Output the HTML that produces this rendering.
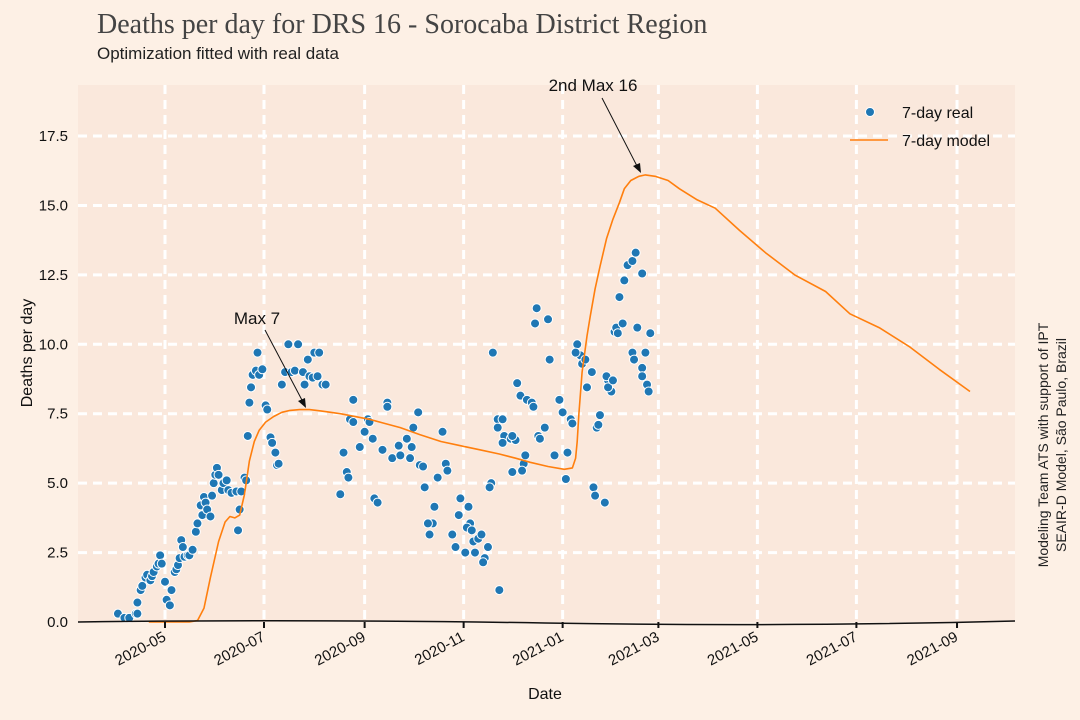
<!DOCTYPE html>
<html><head><meta charset="utf-8"><style>
html,body{margin:0;padding:0;background:#fdf0e5;}
svg{display:block;font-family:"Liberation Sans",sans-serif;}
</style></head><body>
<svg id="chart" width="1080" height="720" viewBox="0 0 1080 720">
<rect width="1080" height="720" fill="#fdf0e5"/>
<text x="97" y="33" font-family="Liberation Serif, serif" font-size="28" fill="#444">Deaths per day for DRS 16 - Sorocaba District Region</text>
<text x="97" y="59" font-size="17" fill="#222">Optimization fitted with real data</text>
<rect x="78" y="85" width="937" height="537" fill="#fae8dc"/>
<g id="grid"></g><g id="marks"></g><g id="axes"></g>
<text transform="translate(32,353) rotate(-90)" text-anchor="middle" font-size="16" fill="#111">Deaths per day</text>
<text x="545" y="699" text-anchor="middle" font-size="16" fill="#111">Date</text>
<text transform="translate(1048,445) rotate(-90)" text-anchor="middle" font-size="14" fill="#222">Modeling Team ATS with support of IPT</text>
<text transform="translate(1066,445) rotate(-90)" text-anchor="middle" font-size="14" fill="#222">SEAIR-D Model, São Paulo, Brazil</text>
<g>
<circle cx="870" cy="112" r="4.5" fill="#1f77b4" stroke="#fff" stroke-width="1"/>
<text x="902" y="118" font-size="16" fill="#111">7-day real</text>
<line x1="850" y1="140" x2="888" y2="140" stroke="#ff7f0e" stroke-width="1.5"/>
<text x="902" y="146" font-size="16" fill="#111">7-day model</text>
</g>
<g>
<text x="257" y="324" text-anchor="middle" font-size="17" fill="#111">Max 7</text>
<line x1="265" y1="330" x2="303" y2="402" stroke="#111" stroke-width="1"/>
<polygon points="306,408 298,401 305,398" fill="#111"/>
</g>
<g>
<text x="593" y="91" text-anchor="middle" font-size="17" fill="#111">2nd Max 16</text>
<line x1="602" y1="98" x2="637" y2="166" stroke="#111" stroke-width="1"/>
<polygon points="641,173 633,166 640,163" fill="#111"/>
</g>
</svg>
<script>
// day index = days since 2020-05-01
const realDays=[-29,-25,-22,-18,-17,-17,-15,-14,-12,-11,-9,-8,-7,-5,-4,-3,-2,0,1,3,4,6,7,8,9,10,11,12,14,15,17,19,20,22,23,24,25,26,28,29,30,31,32,33,35,36,38,39,41,44,45,46,47,49,50,51,52,53,54,56,57,58,60,62,63,65,66,68,69,70,72,74,76,78,80,82,85,86,88,89,91,92,94,95,97,99,116,114,116,137,137,156,125,126,123,128,120,110,112,113,108,129,131,134,140,145,144,149,152,151,153,157,159,171,173,174,168,160,166,165,162,163,177,179,182,187,188,181,186,189,190,193,191,185,197,196,195,199,206,201,200,205,209,213,216,214,205,208,208,214,221,220,222,217,219,223,226,227,230,231,234,229,236,228,202,237,243,250,251,266,267,268,245,248,240,247,264,265,271,273,275,272,273,260,256,257,254,253,259,263,276,277,278,279,282,280,283,285,288,290,294,291,296,288,289,294,294,297,298,299];
const realVals=[0.3,0.15,0.15,0.3,0.3,0.7,1.15,1.3,1.6,1.7,1.5,1.65,1.8,2.0,2.1,2.4,2.1,1.45,0.8,0.6,1.15,1.8,1.9,2.05,2.3,2.95,2.7,2.35,2.4,2.4,2.6,3.25,3.55,4.2,3.85,4.5,4.3,4.05,3.8,4.55,5.0,5.3,5.55,5.3,4.75,5.0,5.1,4.75,4.65,4.7,3.3,4.05,4.7,5.2,5.1,6.7,7.9,8.45,8.9,9.05,9.7,8.9,9.1,7.8,7.65,6.65,6.45,6.1,5.65,5.7,8.55,9.0,10.0,9.0,9.05,10.0,9.0,8.55,9.45,8.85,8.8,9.7,8.85,9.7,8.55,8.55,8.0,7.3,7.2,7.9,7.75,7.55,7.3,7.2,6.85,6.6,6.3,6.1,5.4,5.2,4.6,4.45,4.3,6.2,5.9,6.0,6.35,6.6,6.3,5.9,7.0,5.65,5.6,6.85,5.7,5.45,5.2,4.85,4.15,3.55,3.55,3.15,3.15,2.7,4.45,4.15,3.55,3.85,3.4,3.3,2.9,3.0,2.5,2.5,2.3,2.15,3.15,2.7,1.15,5.0,4.85,7.3,6.7,6.6,6.55,6.7,7.0,7.3,6.45,5.4,5.7,5.45,6.0,8.6,8.15,8.0,7.9,7.75,6.7,6.6,7.0,11.3,10.9,10.75,9.7,9.45,8.0,7.3,7.15,7.0,7.1,7.45,7.55,6.1,6.0,5.15,4.85,4.55,4.3,8.7,8.3,8.85,8.45,8.45,9.6,9.3,10.0,9.7,9.45,9.0,8.7,10.45,10.6,10.4,10.75,11.7,12.3,12.85,13.0,13.3,12.55,10.6,9.7,9.7,9.45,9.15,8.85,8.55,8.3,10.4,11.3,12.3,12.55];
const modelDays=[-10,15,20,24,28,33,37,40,43,46,49,52,55,58,62,67,72,77,83,89,96,108,126,145,157,170,182,194,206,216,225,236,246,251,253,254,255,257,260,262,265,268,272,276,280,283,287,292,296,302,310,317,328,339,354,370,388,407,422,440,459,477,496];
const modelVals=[0,0,0.05,0.5,1.6,2.9,3.6,3.8,3.75,3.85,4.6,5.8,6.5,6.9,7.2,7.4,7.55,7.62,7.65,7.65,7.6,7.5,7.3,7.0,6.75,6.5,6.35,6.2,6.05,5.9,5.75,5.6,5.5,5.55,5.9,6.5,7.5,9.0,10.3,11.0,12.0,12.8,13.8,14.5,15.1,15.6,15.9,16.05,16.1,16.05,15.9,15.6,15.2,14.9,14.1,13.3,12.5,11.9,11.1,10.6,9.9,9.1,8.3];
const yTicks=[0,2.5,5,7.5,10,12.5,15,17.5];
const yTickLabels=["0.0","2.5","5.0","7.5","10.0","12.5","15.0","17.5"];
const xTickDays=[0,61,123,184,245,304,365,426,488];
const xTickLabels=["2020-05","2020-07","2020-09","2020-11","2021-01","2021-03","2021-05","2021-07","2021-09"];

const NS="http://www.w3.org/2000/svg";
const xs=d=>165+d*1.623;
const ys=v=>622-v*27.77;
function mk(tag,attrs,parent){const e=document.createElementNS(NS,tag);for(const k in attrs)e.setAttribute(k,attrs[k]);parent.appendChild(e);return e;}
const grid=document.getElementById('grid'),marks=document.getElementById('marks'),axes=document.getElementById('axes');
yTicks.forEach((v,i)=>{
  if(v>0){const l=mk('line',{x1:78,x2:1015,y1:ys(v),y2:ys(v),stroke:'#fff','stroke-width':3,'stroke-dasharray':'9,6'},grid);
  
  }
  const t=mk('text',{x:68,y:ys(v)+5,'text-anchor':'end','font-size':15,fill:'#111'},axes);
  t.textContent=yTickLabels[i];
  
  
});
xTickDays.forEach((d,i)=>{
  const l=mk('line',{x1:xs(d),x2:xs(d),y1:85,y2:622,stroke:'#fff','stroke-width':3,'stroke-dasharray':'9,6'},grid);
  
  
  const tk=mk('line',{x1:xs(d),x2:xs(d),y1:622,y2:628,stroke:'#111','stroke-width':2},axes);
  
  
  const t=mk('text',{transform:`translate(${xs(d)+2},${640}) rotate(-28)`,'text-anchor':'end','font-size':15,fill:'#111'},axes);
  t.textContent=xTickLabels[i];
  
  
});
const ax=mk('path',{d:'M78,622 Q300,619 545,623 T1015,621',stroke:'#111','stroke-width':1.5,fill:'none'},axes);


realDays.forEach((d,i)=>{
  const c=mk('circle',{cx:xs(d),cy:ys(realVals[i]),r:4.5,fill:'#1f77b4',stroke:'#fff','stroke-width':1},marks);
  
  
});
const p=mk('path',{d:modelDays.map((d,i)=>(i?'L':'M')+xs(d).toFixed(1)+','+ys(modelVals[i]).toFixed(1)).join(' '),stroke:'#ff7f0e','stroke-width':1.6,fill:'none','stroke-linejoin':'round'},marks);


</script>
</body></html>
